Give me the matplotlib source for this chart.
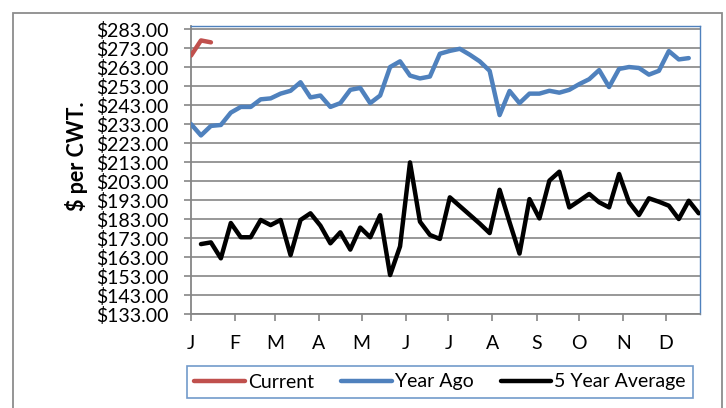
import numpy as np
import matplotlib.pyplot as plt
from matplotlib.patches import Rectangle

# weekly prices, $ per CWT
current = [269, 277, 276]
year_ago = [233, 227, 232, 232.5, 239, 242, 242, 246, 246.5, 249,
            250.5, 255, 247, 248, 242, 244, 251, 252, 244, 248,
            263, 266, 258.5, 257, 258, 270, 271.5, 272.6, 269.5, 266,
            261, 237.7, 250.4, 244, 249, 249, 250.5, 249.5, 251, 254,
            256.6, 261.4, 252.5, 262, 263, 262.5, 259, 261, 271.4, 267,
            267.7]
five_year_avg = [169.8, 170.7, 162.3, 180.9, 173.4, 173.4, 182.5, 179.8, 182.5, 164,
                 182.5, 186, 179.5, 170.2, 176, 166.9, 178.5, 173.4, 185, 153.5,
                 168.6, 212.8, 181.6, 174.6, 172.5, 194.4, 189.8, 185.2, 180.6, 175.6,
                 198.4, 181.3, 164.8, 193.5, 183.3, 203.2, 207.9, 189.1, 192.6, 196.2,
                 191.8, 189.1, 206.7, 191.8, 185.1, 193.9, 192.1, 190, 183, 192.6,
                 186]
month_labels = ['J', 'F', 'M', 'A', 'M', 'J', 'J', 'A', 'S', 'O', 'N', 'D']
month_start_days = [0, 31, 59, 90, 120, 151, 181, 212, 243, 273, 304, 334]
y_ticks = np.arange(133, 284, 10)

plt.rcParams['font.family'] = ['Lato', 'DejaVu Sans']

W, H = 726, 408
fig = plt.figure(figsize=(W / 100, H / 100), dpi=100)
ax = fig.add_axes([191 / W, 1 - 314 / H, (700 - 191) / W, (314 - 26) / H])

# outer chart border
fig.patches.append(Rectangle((13 / W, -0.02), (722 - 13) / W, 1 - 13 / H + 0.02,
                             transform=fig.transFigure, fill=False,
                             edgecolor='#8c8c8c', lw=1.3))

gray = '#868686'
blue = '#4F81BD'

ax.plot(np.arange(len(current)), current, color='#C0504D', lw=3.2, label='Current',
        solid_capstyle='round', zorder=3)
ax.plot(np.arange(len(year_ago)), year_ago, color=blue, lw=3.2, label='Year Ago',
        solid_capstyle='round', zorder=3)
ax.plot(np.arange(1, len(five_year_avg) + 1), five_year_avg, color='black', lw=3.2,
        label='5 Year Average', solid_capstyle='round', zorder=3)

ax.set_xlim(0, 51.13)
ax.set_ylim(133, 284.6)

ax.set_yticks(y_ticks)
ax.set_yticklabels(['${:.2f}'.format(v) for v in y_ticks])
ax.set_xticks(np.array(month_start_days) / 7)
ax.set_xticklabels(month_labels)

ax.grid(axis='y', color=gray, lw=1.2, zorder=1)
ax.tick_params(axis='both', direction='out', length=5, width=1.2, color=gray,
               labelsize=14, labelcolor='black')
ax.tick_params(axis='y', pad=11)
ax.tick_params(axis='x', pad=10)

for side in ['top', 'right']:
    ax.spines[side].set_color(blue)
    ax.spines[side].set_linewidth(1)
for side in ['left', 'bottom']:
    ax.spines[side].set_color(gray)
    ax.spines[side].set_linewidth(1.3)

fig.text(76 / W, 1 - 156 / H, '$ per CWT.', rotation=90, fontsize=15.5,
         fontweight='bold', ha='center', va='center')

leg = fig.legend(loc='center', bbox_to_anchor=(440 / W, 1 - 382 / H), ncol=3,
                 fontsize=14, frameon=True, fancybox=False, edgecolor=blue,
                 handlelength=2.6, handletextpad=0.15, columnspacing=1.4,
                 borderpad=0.4, borderaxespad=0)
leg.get_frame().set_linewidth(1.2)

fig.savefig('out.png', dpi=100)
